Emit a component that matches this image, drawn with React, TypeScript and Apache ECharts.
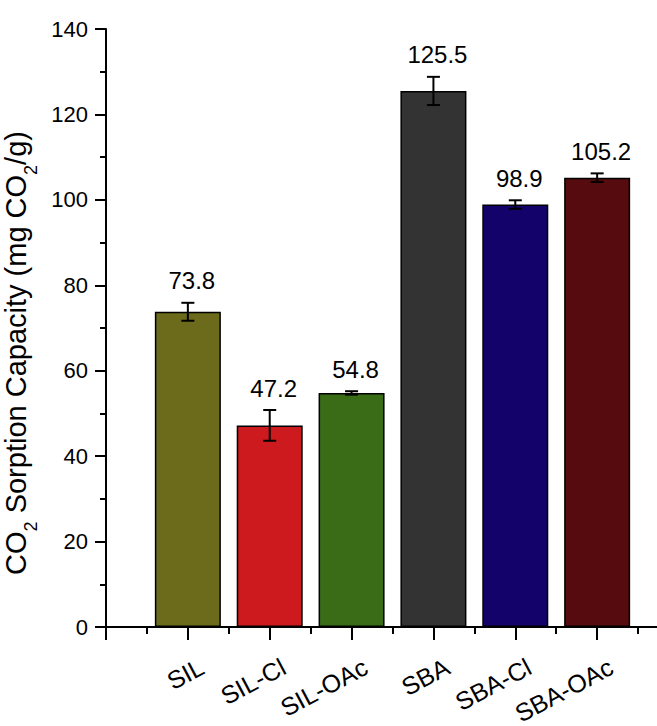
import React, { useEffect, useRef } from "react";
import * as echarts from "echarts";

const categories = ["SIL", "SIL-Cl", "SIL-OAc", "SBA", "SBA-Cl", "SBA-OAc"];
const positions = [1, 2, 3, 4, 5, 6];
const values = [73.8, 47.2, 54.8, 125.5, 98.9, 105.2];
const errors = [2.1, 3.6, 0.4, 3.3, 1.0, 1.0];
const colors = ["#6B6B1B", "#CC1A1F", "#3A6B17", "#333333", "#12026A", "#560C0E"];

const FONT = "'Liberation Sans', Arial, sans-serif";

export default function App() {
  const ref = useRef<HTMLDivElement>(null);
  useEffect(() => {
    if (!ref.current) return;
    const chart = echarts.init(ref.current, null, { renderer: "svg" });
    const option: any = {
      animation: false,
      backgroundColor: "#fff",
      grid: { left: 106, top: 29, right: -22, bottom: 99, containLabel: false, outerBoundsMode: "none" },
      xAxis: {
        type: "value",
        min: 0,
        max: 7,
        interval: 1,
        axisLine: { show: true, lineStyle: { color: "#000", width: 2 } },
        axisTick: { show: true, length: 13, lineStyle: { color: "#000", width: 2 } },
        minorTick: { show: true, splitNumber: 2, length: 7, lineStyle: { color: "#000", width: 2 } },
        axisLabel: { show: false },
        splitLine: { show: false },
      },
      yAxis: {
        type: "value",
        min: 0,
        max: 140,
        interval: 20,
        name: "CO{sub|2} Sorption Capacity (mg CO{sub|2}/g)",
        nameLocation: "middle",
        nameRotate: 90,
        nameGap: 56,
        nameTextStyle: {
          fontSize: 29,
          fontFamily: FONT,
          color: "#000",
          lineHeight: 48,
          padding: [0, 50, 0, 0],
          rich: {
            sub: { fontSize: 18, fontFamily: FONT, color: "#000", verticalAlign: "bottom", lineHeight: 18 },
          },
        },
        axisLine: { show: true, lineStyle: { color: "#000", width: 2 } },
        axisTick: { show: true, length: 11, lineStyle: { color: "#000", width: 2 } },
        minorTick: { show: true, splitNumber: 2, length: 6, lineStyle: { color: "#000", width: 2 } },
        axisLabel: { fontSize: 22, fontFamily: FONT, color: "#000", margin: 18 },
        splitLine: { show: false },
      },
      series: [
        {
          type: "bar",
          barWidth: 66,
          data: values.map((v, i) => ({
            value: [positions[i], v],
            itemStyle: { color: colors[i], borderColor: "#000", borderWidth: 1.5 },
          })),
        },
        {
          type: "custom",
          z: 5,
          data: values.map((v, i) => [positions[i], v, errors[i]]),
          renderItem: (params: any, api: any) => {
            const x = api.value(0);
            const v = api.value(1);
            const e = api.value(2);
            const t = api.coord([x, v + e]);
            const b = api.coord([x, v - e]);
            const hw = 6.5;
            const st = { stroke: "#000", lineWidth: 2 };
            return {
              type: "group",
              children: [
                { type: "line", shape: { x1: t[0], y1: t[1], x2: b[0], y2: b[1] }, style: st },
                { type: "line", shape: { x1: t[0] - hw, y1: t[1], x2: t[0] + hw, y2: t[1] }, style: st },
                { type: "line", shape: { x1: b[0] - hw, y1: b[1], x2: b[0] + hw, y2: b[1] }, style: st },
                {
                  type: "text",
                  x: t[0] + 4,
                  y: t[1] - 10,
                  style: {
                    text: values[params.dataIndex].toFixed(1),
                    fill: "#000",
                    font: `24px ${FONT}`,
                    align: "center",
                    verticalAlign: "bottom",
                  },
                },
              ],
            };
          },
        },
        {
          type: "custom",
          z: 5,
          data: positions.map((p) => [p, 0]),
          renderItem: (params: any, api: any) => {
            const p = api.coord([api.value(0), 0]);
            return {
              type: "text",
              x: p[0] + 14,
              y: p[1] + 38,
              rotation: (28 * Math.PI) / 180,
              style: {
                text: categories[params.dataIndex],
                fill: "#000",
                font: `25px ${FONT}`,
                align: "right",
                verticalAlign: "middle",
              },
            };
          },
        },
      ],
    };
    chart.setOption(option);
    return () => chart.dispose();
  }, []);
  return (
    <div
      ref={ref}
      style={{ position: "fixed", left: 0, top: 0, width: 657, height: 726, background: "#fff" }}
    />
  );
}
